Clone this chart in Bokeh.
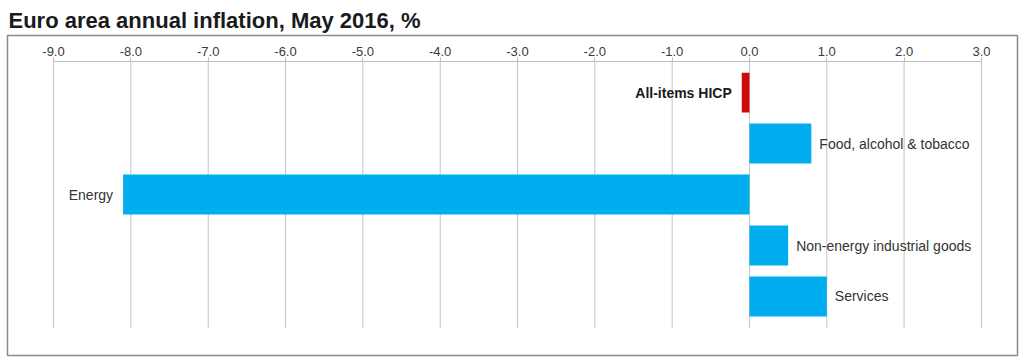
from bokeh.plotting import figure
from bokeh.models import LinearAxis, FixedTicker, ColumnDataSource, Range1d
from bokeh.core.properties import value
from bokeh.embed import file_html
from bokeh.resources import INLINE

# ---- data ----
categories = ["All-items HICP", "Food, alcohol & tobacco", "Energy",
              "Non-energy industrial goods", "Services"]
inflation = [-0.1, 0.8, -8.1, 0.5, 1.0]
tick_values = [-9, -8, -7, -6, -5, -4, -3, -2, -1, 0, 1, 2, 3]
tick_labels = ["-9.0", "-8.0", "-7.0", "-6.0", "-5.0", "-4.0", "-3.0",
               "-2.0", "-1.0", "0.0", "1.0", "2.0", "3.0"]
headline = "All-items HICP"

FONT = "Liberation Sans"
BLUE = "#00AEEF"
RED = "#CC0A0A"

n = len(categories)
ypos = [n - 1 - i for i in range(n)]

axis_y = n - 1 + 0.608      # level of the top axis line
grid_bottom = -0.627        # bottom of grid lines

p = figure(width=1024, height=362, output_backend="svg", toolbar_location=None,
           x_axis_location=None, y_axis_location=None,
           x_range=Range1d(-9.595, 3.466), y_range=Range1d(-1.157, n - 1 + 1.118),
           min_border_left=7, min_border_right=7, min_border_top=35,
           min_border_bottom=7)
p.grid.visible = False
p.outline_line_color = "#8a8a8a"
p.outline_line_width = 1.5
p.background_fill_color = "white"
p.border_fill_color = "white"

p.title.text = "Euro area annual inflation, May 2016, %"
p.title.text_font = FONT
p.title.text_font_size = "22px"
p.title.text_font_style = "bold"
p.title.text_color = "#1a1a1a"
p.title.align = "left"
p.title.offset = 1
p.title.standoff = 6

# grid lines
p.segment(x0=tick_values, y0=[grid_bottom] * len(tick_values),
          x1=tick_values, y1=[axis_y] * len(tick_values),
          line_color="#c4c4c4", line_width=1)

# top axis placed inside the box
ax = LinearAxis(fixed_location=axis_y, ticker=FixedTicker(ticks=tick_values),
                bounds=(tick_values[0], tick_values[-1]))
ax.major_label_overrides = {t: l for t, l in zip(tick_values, tick_labels)}
ax.axis_line_color = "#bdbdbd"
ax.major_tick_line_color = "#bdbdbd"
ax.major_tick_out = 4
ax.major_tick_in = 0
ax.minor_tick_out = 0
ax.minor_tick_in = 0
ax.major_label_standoff = 2
ax.major_label_text_font = FONT
ax.major_label_text_font_size = "13px"
ax.major_label_text_color = "#3a3a3a"
p.add_layout(ax, "above")

colors = [RED if c == headline else BLUE for c in categories]
src = ColumnDataSource(dict(
    y=ypos, v=inflation, cat=categories, color=colors,
    align=["left" if v >= 0 else "right" for v in inflation],
    xoff=[8 if v >= 0 else -10 for v in inflation],
    style=["bold" if c == headline else "normal" for c in categories],
    tcolor=["#1a1a1a" if c == headline else "#333333" for c in categories],
))

p.hbar(y="y", left=0, right="v", height=0.78, fill_color="color",
       line_color=None, source=src)

p.text(x="v", y="y", text="cat", text_align="align", x_offset="xoff",
       text_baseline="middle", text_font=value(FONT), text_font_size="14px",
       text_font_style="style", text_color="tcolor", source=src)

open("out.html", "w").write(file_html(p, INLINE))
